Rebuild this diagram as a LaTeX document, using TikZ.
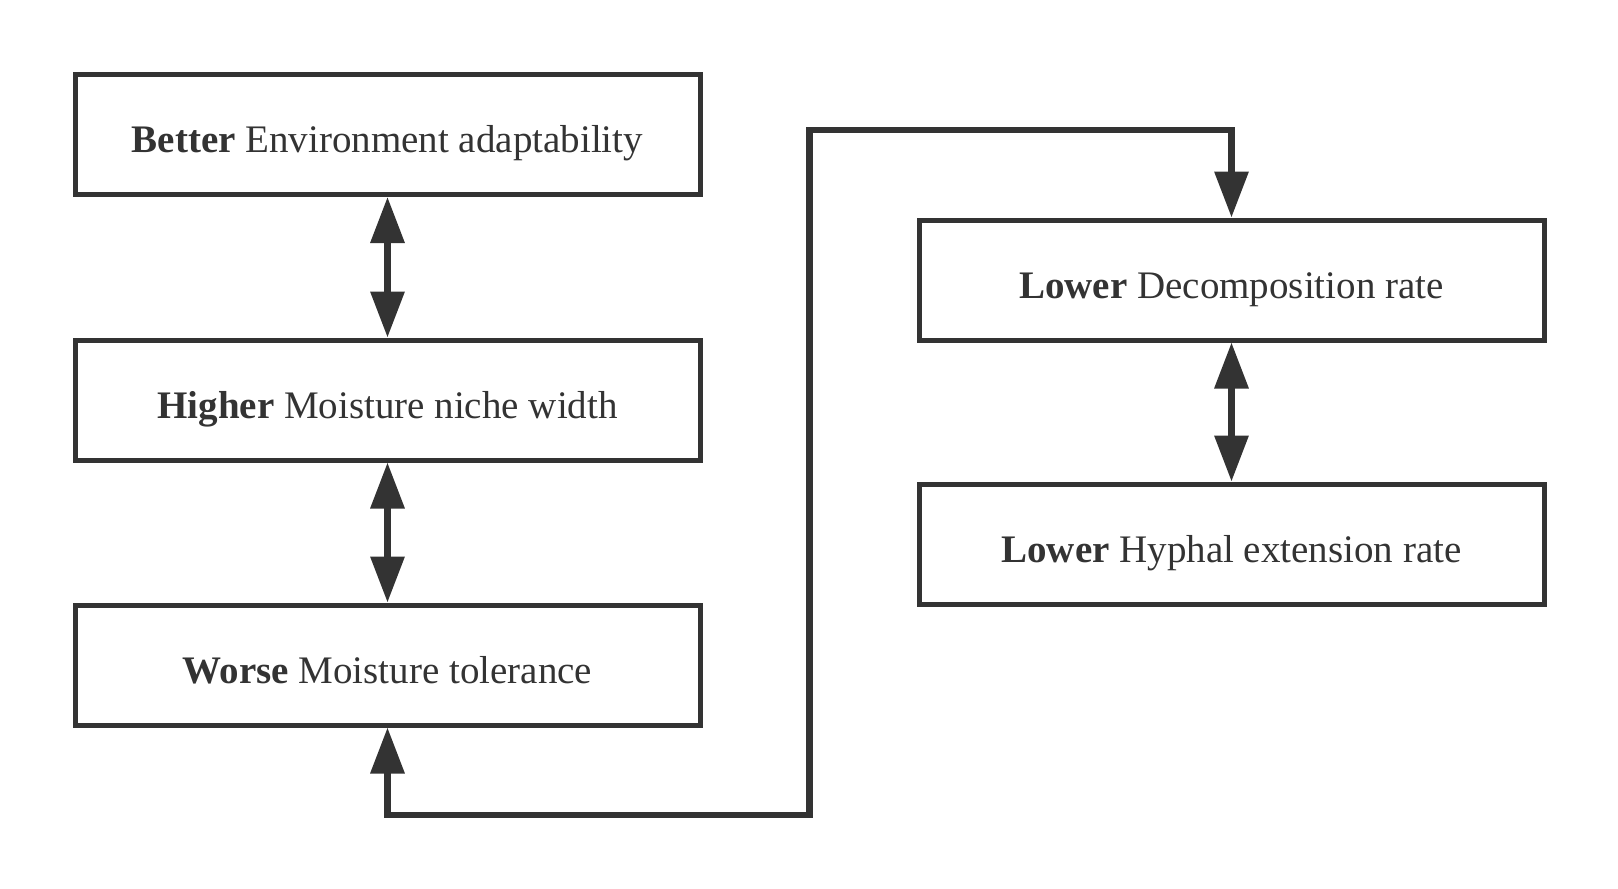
\documentclass[tikz,border=0pt]{standalone}
\usepackage{fontspec}
\setmainfont{Liberation Serif}
\usetikzlibrary{arrows.meta}
\definecolor{ink}{HTML}{333333}
\begin{document}
\begin{tikzpicture}[x=1pt,y=-1pt,
  box/.style={draw=ink, line width=5pt, minimum width=625pt, minimum height=120pt,
    inner sep=0pt, text=ink, font=\fontsize{39}{45}\selectfont, line join=miter,
    text height=45pt, text depth=9pt},
  link/.style={draw=ink, line width=6.5pt, line join=miter,
    {Triangle[length=46pt,width=33pt]}-{Triangle[length=46pt,width=33pt]}}]
\useasboundingbox (0,0) rectangle (1618,889);
\node[box] (b1) at (387.5,134.5) {\textbf{Better} Environment adaptability};
\node[box] (b2) at (387.5,400) {\textbf{Higher} Moisture niche width};
\node[box] (b3) at (387.5,665) {\textbf{Worse} Moisture tolerance};
\node[box] (b4) at (1231.5,280) {\textbf{Lower} Decomposition rate};
\node[box] (b5) at (1231.5,544) {\textbf{Lower} Hyphal extension rate};
\coordinate (c1) at (387.5,815);
\coordinate (c2) at (809.5,815);
\coordinate (c3) at (809.5,130);
\coordinate (c4) at (1231.5,130);
\draw[link] (b1.south) -- (b2.north);
\draw[link] (b2.south) -- (b3.north);
\draw[link] (b4.south) -- (b5.north);
\draw[link] (b3.south) -- (c1) -- (c2) -- (c3) -- (c4) -- (b4.north);
\end{tikzpicture}
\end{document}
